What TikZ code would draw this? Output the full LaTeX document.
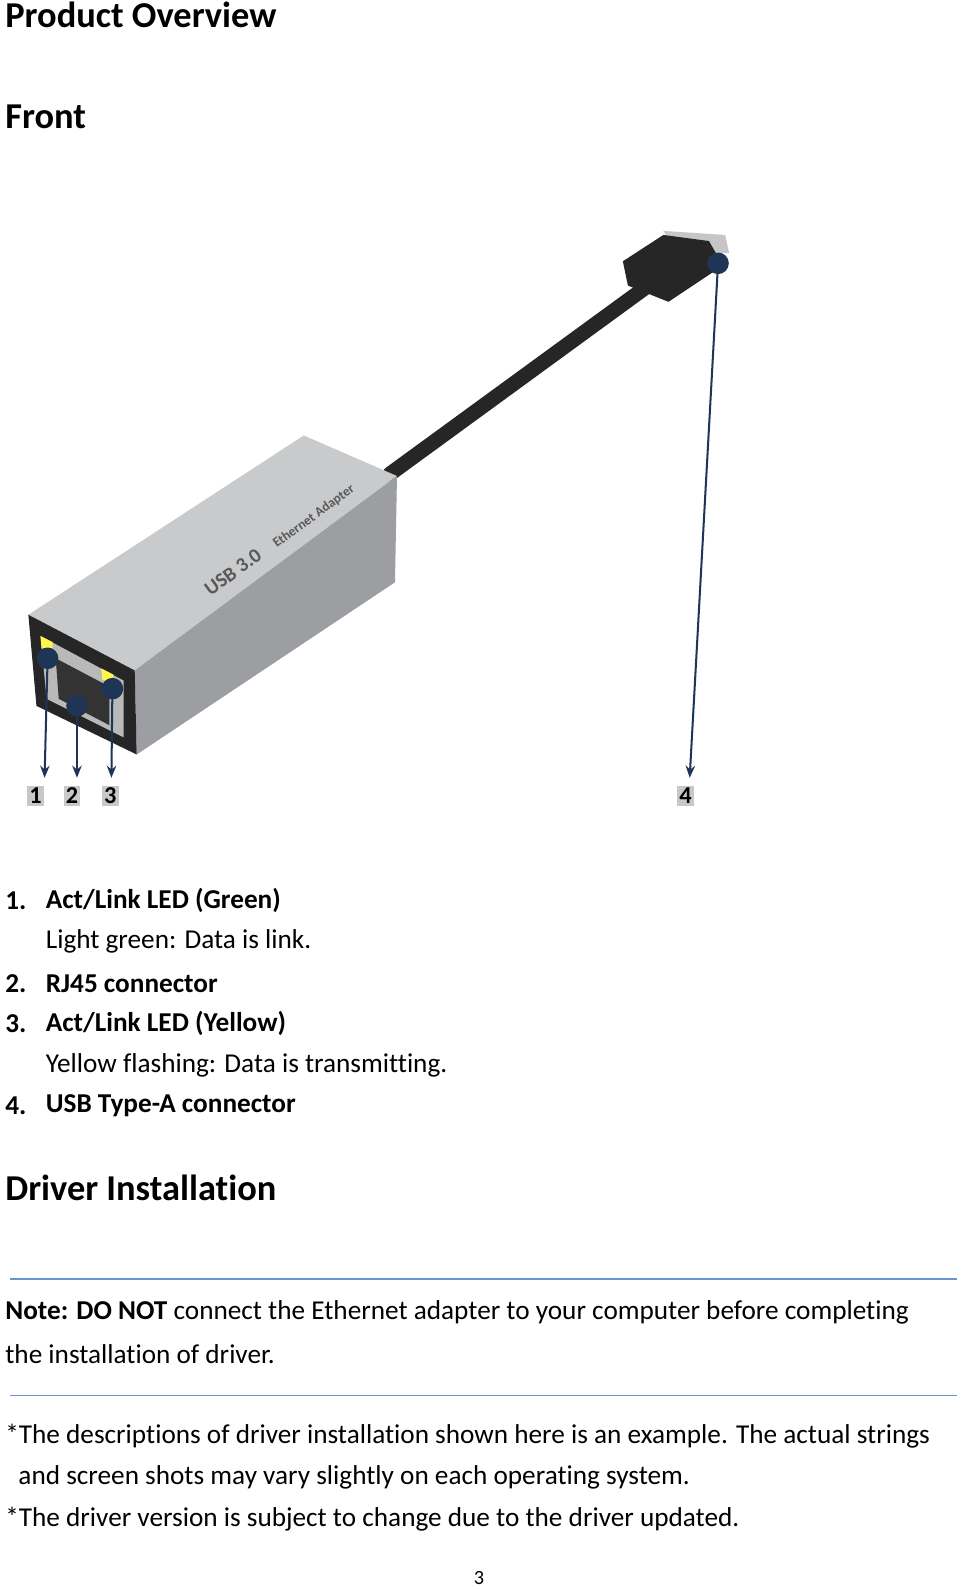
\documentclass[tikz,border=0pt]{standalone}
\usepackage{fontspec}
\setmainfont[Ligatures=NoCommon]{Carlito}
\usetikzlibrary{arrows.meta}
\definecolor{navy}{HTML}{1F3555}
\definecolor{rule}{HTML}{6A94CF}
\definecolor{silver}{HTML}{C9CACC}
\definecolor{silverside}{HTML}{9C9EA2}
\definecolor{tagbg}{HTML}{C8C8C8}
\tikzset{
  txt/.style={anchor=west,inner sep=0pt,font=\fontsize{20.2}{22}\selectfont},
  head/.style={anchor=west,inner sep=0pt,font=\fontsize{27}{30}\selectfont\bfseries},
  tag/.style={fill=tagbg,inner sep=1.5pt,font=\fontsize{18}{20}\selectfont\bfseries},
  dot/.style={circle,fill=navy,inner sep=0pt,minimum size=16pt},
  callout/.style={navy,line width=1.5pt,-{Stealth[length=9pt,width=7pt]}}
}
\begin{document}
\begin{tikzpicture}[x=0.0264cm,y=-0.0264cm]
  \useasboundingbox[fill=white] (0,0) rectangle (948,1569);
  % headings
  \node[head] (title) at (5,15) {Product Overview};
  \node[head] (front) at (5,115) {Front};
  % cable and plug
  \draw[line width=11pt,black!85,line cap=round] (385,468) -- (640,282);
  \fill[gray!45] (655,228) -- (716,232) -- (720,250) -- (668,248) -- cycle;
  \fill[black!85] (615,258) -- (655,232) -- (700,238) -- (714,262) -- (660,298) -- (620,282) -- cycle;
  % adapter body
  \fill[silver] (28,607) -- (300,430) -- (392,470) -- (133,662) -- cycle;
  \fill[silverside] (133,662) -- (392,470) -- (390,575) -- (135,745) -- cycle;
  \fill[black!85] (28,607) -- (133,662) -- (135,745) -- (36,697) -- cycle;
  \fill[gray!55] (40,628) -- (122,672) -- (122,728) -- (46,690) -- cycle;
  \fill[black!80] (55,650) -- (108,678) -- (108,716) -- (58,690) -- cycle;
  \fill[yellow!70!white] (40,628) -- (52,634) -- (52,645) -- (41,640) -- cycle;
  \fill[yellow!70!white] (100,660) -- (112,666) -- (112,676) -- (101,671) -- cycle;
  \node[rotate=36,font=\fontsize{15}{16}\selectfont\bfseries,gray!70!black,inner sep=0pt] (brand) at (230,565) {USB 3.0};
  \node[rotate=36,font=\fontsize{10}{11}\selectfont\bfseries,gray!70!black,inner sep=0pt] (brand2) at (310,510) {Ethernet Adapter};
  % callouts
  \node[dot] (d1) at (47,650) {};
  \node[dot] (d2) at (76,697) {};
  \node[dot] (d3) at (111,680) {};
  \node[dot] (d4) at (709,260) {};
  \coordinate (e1) at (44,768);
  \coordinate (e2) at (76,768);
  \coordinate (e3) at (110,768);
  \coordinate (e4) at (681,768);
  \foreach \i in {1,...,4} \draw[callout] (d\i.center) -- (e\i);
  \node[tag] (t1) at (35,786) {1};
  \node[tag] (t2) at (71,786) {2};
  \node[tag] (t3) at (109,786) {3};
  \node[tag] (t4) at (677,786) {4};
  % list
  \node[txt] (n1) at (5,889) {\textbf{1.}};
  \node[txt] (l1) at (45,889) {\textbf{Act/Link LED (Green)}};
  \node[txt] (s1) at (45,930) {Light green: Data is link.};
  \node[txt] (n2) at (5,971) {\textbf{2.}};
  \node[txt] (l2) at (45,971) {\textbf{RJ45 connector}};
  \node[txt] (n3) at (5,1011) {\textbf{3.}};
  \node[txt] (l3) at (45,1011) {\textbf{Act/Link LED (Yellow)}};
  \node[txt] (s3) at (45,1052) {Yellow flashing: Data is transmitting.};
  \node[txt] (n4) at (5,1092) {\textbf{4.}};
  \node[txt] (l4) at (45,1092) {\textbf{USB Type-A connector}};
  \node[head] (driver) at (5,1173) {Driver Installation};
  % note
  \draw[rule,line width=1pt] (10,1263) -- (945,1263);
  \node[txt] (note1) at (5,1296) {\textbf{Note: DO NOT} connect the Ethernet adapter to your computer before completing};
  \node[txt] (note2) at (5,1337) {the installation of driver.};
  \draw[rule,line width=1pt] (10,1378) -- (945,1378);
  \node[txt] (p1) at (5,1418) {*The descriptions of driver installation shown here is an example. The actual strings};
  \node[txt] (p2) at (18,1459) {and screen shots may vary slightly on each operating system.};
  \node[txt] (p3) at (5,1500) {*The driver version is subject to change due to the driver updated.};
  \node[font=\fontsize{15}{16}\selectfont,inner sep=0pt] (page) at (473,1558) {3};
\end{tikzpicture}
\end{document}
